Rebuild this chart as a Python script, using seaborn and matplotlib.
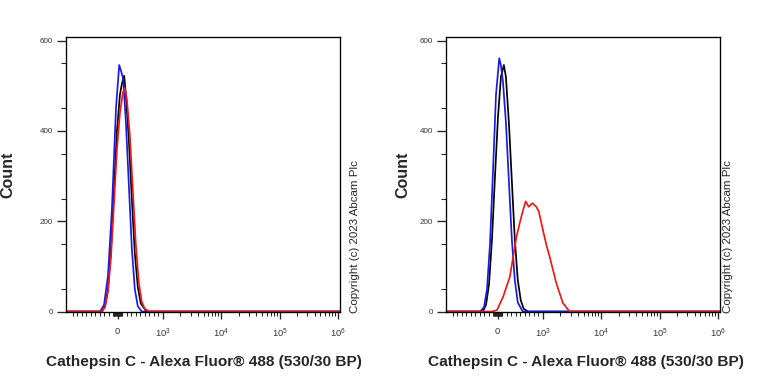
import matplotlib
matplotlib.use("Agg")
import matplotlib.pyplot as plt
import numpy as np
import pandas as pd
import seaborn as sns

# Histogram traces (fluorescence units, count)
left_blue_x = [-390, -302, -214, -126, -37, 35, 84, 123, 183, 249, 315, 381, 447, 535]
left_blue_y = [0, 15, 80, 230, 450, 546, 530, 515, 420, 280, 140, 50, 12, 0]
left_black_x = [-346, -280, -214, -148, -81, -15, 51, 95, 145, 183, 249, 315, 381, 447, 513, 639]
left_black_y = [0, 12, 50, 140, 270, 400, 480, 505, 522, 480, 380, 250, 130, 55, 18, 0]
left_red_x = [-352, -280, -214, -148, -81, -15, 51, 117, 161, 205, 271, 337, 403, 469, 535, 601, 711]
left_red_y = [0, 10, 45, 120, 240, 360, 440, 485, 495, 470, 390, 270, 150, 65, 22, 6, 0]

right_blue_x = [-390, -302, -236, -170, -104, -37, 35, 73, 117, 183, 249, 315, 381, 447, 557]
right_blue_y = [0, 10, 50, 150, 310, 480, 561, 545, 510, 420, 290, 160, 70, 20, 0]
right_black_x = [-330, -258, -192, -126, -59, 7, 73, 139, 183, 249, 315, 381, 447, 513, 579, 674]
right_black_y = [0, 15, 60, 160, 300, 430, 520, 546, 520, 420, 290, 160, 70, 25, 6, 0]
right_red_x = [-132, -15, 123, 271, 419, 491, 557, 623, 689, 771, 859, 916, 1008, 1144, 1313, 1710, 2216, 2888]
right_red_y = [0, 3, 33, 77, 166, 196, 222, 244, 232, 240, 232, 221, 181, 150, 122, 63, 19, 0]

x_major = [0, 1e3, 1e4, 1e5, 1e6]
x_major_labels = ["0", "$10^3$", "$10^4$", "$10^5$", "$10^6$"]
y_major = [0, 200, 400, 600]
xlabel = "Cathepsin C - Alexa Fluor® 488 (530/30 BP)"
copyright_text = "Copyright (c) 2023 Abcam Plc"

sns.set_style("ticks")
plt.rcParams["font.family"] = ["Liberation Sans", "DejaVu Sans"]
plt.rcParams["mathtext.default"] = "regular"

x_lo, x_hi = -1300, 1.08e6

fig = plt.figure(figsize=(8, 4), dpi=96)
ax_left = fig.add_axes([0.0859, 0.1875, 0.3568, 0.7161])
ax_right = fig.add_axes([0.5807, 0.1875, 0.3568, 0.7161])

panels = [
    (ax_left, [(left_black_x, left_black_y, "black"),
               (left_blue_x, left_blue_y, "#1a1ae6"),
               (left_red_x, left_red_y, "#f01818")]),
    (ax_right, [(right_black_x, right_black_y, "black"),
                (right_blue_x, right_blue_y, "#1a1ae6"),
                (right_red_x, right_red_y, "#f01818")]),
]

minor = ([-v for v in range(100, 1001, 100)] + [-v for v in range(10, 100, 10)]
         + list(range(10, 100, 10)) + list(range(100, 1000, 100)))
for d in [1e3, 1e4, 1e5]:
    minor += [k * d for k in range(2, 10)]

for ax, curves in panels:
    ax.set_xscale("symlog", linthresh=1000, linscale=0.693)
    for xs, ys, col in curves:
        df = pd.DataFrame({"x": [x_lo] + xs + [x_hi], "y": [0] + ys + [0]})
        sns.lineplot(data=df, x="x", y="y", sort=False, color=col, lw=1.3, ax=ax)
    ax.set_xlim(x_lo, x_hi)
    ax.set_ylim(-1, 608)
    ax.set_xticks(x_major)
    ax.set_xticklabels(x_major_labels)
    ax.set_xticks(minor, minor=True)
    ax.set_yticks(y_major)
    ax.set_yticks(range(50, 600, 100), minor=True)
    ax.tick_params(axis="x", which="major", length=5, width=1, labelsize=7,
                   labelcolor="#333333", pad=6)
    ax.tick_params(axis="x", which="minor", length=3, width=0.8)
    ax.tick_params(axis="y", which="major", length=7, width=1, labelsize=6,
                   labelcolor="#333333", pad=3)
    ax.tick_params(axis="y", which="minor", length=4, width=0.8)
    ax.set_xlabel("")
    ax.set_ylabel("")
    for s in ax.spines.values():
        s.set_visible(True)
        s.set_linewidth(1)
        s.set_color("black")

# Axis titles and copyright
for cx, yx, cpx in [(204, 8, 355), (586, 403, 728)]:
    fig.text(cx / 768, 1 - 362 / 384, xlabel, ha="center", va="center",
             fontsize=11.5, fontweight="bold")
    fig.text(yx / 768, 1 - 175 / 384, "Count", ha="center", va="center",
             rotation=90, fontsize=12, fontweight="bold")
    fig.text(cpx / 768, 1 - 313 / 384, copyright_text, ha="center", va="bottom",
             rotation=90, fontsize=8.6)

fig.savefig("out.png", dpi=96)
